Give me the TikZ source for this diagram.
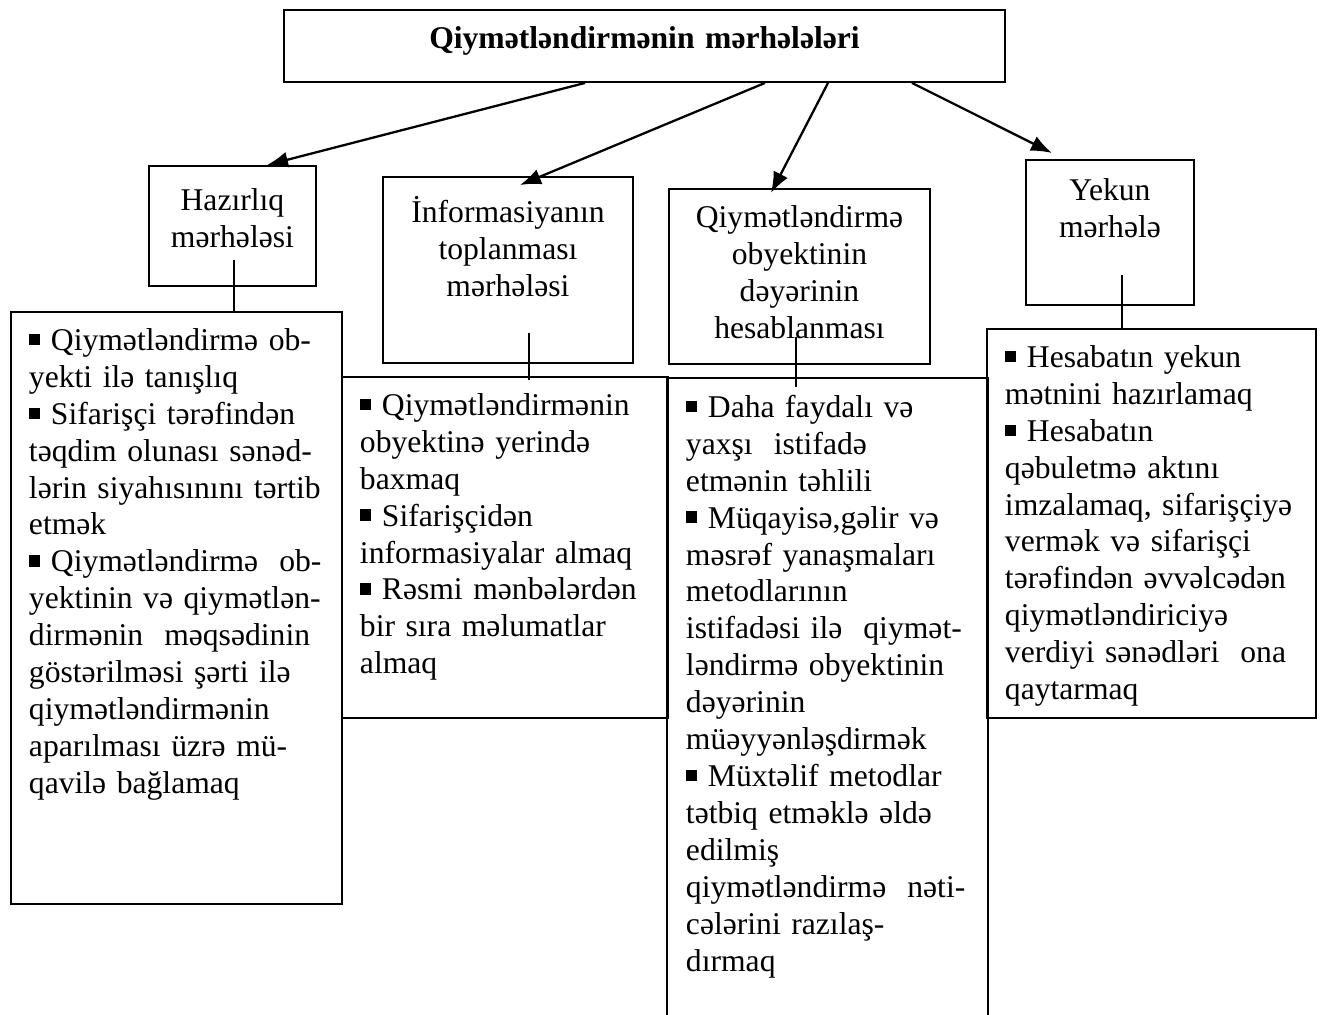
\documentclass[tikz,border=0pt]{standalone}
\usepackage{fontspec}
\setmainfont{Liberation Serif}
\usetikzlibrary{arrows.meta,calc}

\newcommand{\bul}{\rule[3pt]{6.5pt}{6.5pt}\hspace{6pt}}

\tikzset{
  stage/.style={draw=black, line width=1.1pt, anchor=north west, inner xsep=1mm, inner ysep=0pt,
    align=center, font=\fontsize{18pt}{21pt}\selectfont},
  task/.style={anchor=north west, line width=1.1pt, inner xsep=3.6mm, inner ysep=0pt,
    align=left, text height=7.7mm, font=\fontsize{18pt}{21pt}\selectfont},
  link/.style={-{Latex[length=4.2mm,width=3.2mm]}, line width=1.3pt},
  stem/.style={line width=0.7pt}
}

\begin{document}
\begin{tikzpicture}[x=0.2mm, y=-0.2mm]

	\useasboundingbox (0,0) rectangle (1322,1014);

	% main stage box
	\node[stage, font=\bfseries\fontsize{18pt}{21pt}\selectfont, text width=142.2mm, text height=7.8mm, text depth=6.6mm] (title) at (283,9) {Qiymətləndirmənin mərhələləri};

	% stages
	\node[stage, text width=31.4mm, text height=9mm, text depth=15mm]   (hz)  at (148,165)  {Hazırlıq\\ mərhələsi};
	\node[stage, text width=48mm, text height=9.2mm, text depth=28mm]   (inf) at (382,176)  {İnformasiyanın\\ toplanması\\ mərhələsi};
	\node[stage, text width=50.2mm, text height=7.8mm, text depth=27.2mm] (qiy) at (668,188) {Qiymətləndirmə\\ obyektinin\\ dəyərinin\\ hesablanması};
	\node[stage, text width=31.6mm, text height=8.2mm, text depth=20.8mm] (yek) at (1025,159) {Yekun\\ mərhələ};

	% tasks of each stage
	\node[task, draw, text width=59mm, text depth=110.7mm] (hzd) at (10,311) {\bul Qiymətləndirmə ob-\\ yekti ilə tanışlıq\\ \bul Sifarişçi tərəfindən\\ təqdim olunası sənəd-\\ lərin siyahısınını tərtib\\ etmək\\ \bul Qiymətləndirmə~~ob-\\ yektinin və qiymətlən-\\ dirmənin~~məqsədinin\\ göstərilməsi şərti ilə\\ qiymətləndirmənin\\ aparılması üzrə mü-\\ qavilə bağlamaq};
	\node[task, draw, text width=58mm, text depth=60.5mm] (infd) at (341,376) {\bul Qiymətləndirmənin\\ obyektinə yerində\\ baxmaq\\ \bul Sifarişçidən\\ informasiyalar almaq\\ \bul Rəsmi mənbələrdən\\ bir sıra məlumatlar\\ almaq};
	\node[task, text width=56.6mm, text depth=119.9mm] (qiyd) at (667,378) {\bul Daha faydalı və\\ yaxşı~~istifadə\\ etmənin təhlili\\ \bul Müqayisə,gəlir və\\ məsrəf yanaşmaları\\ metodlarının\\ istifadəsi ilə~~qiymət-\\ ləndirmə obyektinin\\ dəyərinin\\ müəyyənləşdirmək\\ \bul Müxtəlif metodlar\\ tətbiq etməklə əldə\\ edilmiş\\ qiymətləndirmə~~nəti-\\ cələrini razılaş-\\ dırmaq};
	\node[task, draw, text width=58.6mm, text depth=70.1mm] (yekd) at (986,328) {\bul Hesabatın yekun\\ mətnini hazırlamaq\\ \bul Hesabatın\\ qəbuletmə aktını\\ imzalamaq, sifarişçiyə\\ vermək və sifarişçi\\ tərəfindən əvvəlcədən\\ qiymətləndiriciyə\\ verdiyi sənədləri~~ona\\ qaytarmaq};
	\draw[line width=1.1pt] (qiyd.south west) -- (qiyd.north west) -- (qiyd.north east) -- (qiyd.south east);

	% arrows from the main box
	\draw[link] ($(title.south west)+(302,0)$) -- ($(hz.north west)+(119,0)$);
	\draw[link] ($(title.south west)+(482,0)$) -- ($(inf.north west)+(138,9)$);
	\draw[link] ($(title.south west)+(545,0)$) -- ($(qiy.north west)+(103,5)$);
	\draw[link] ($(title.south west)+(629,0)$) -- ($(yek.north west)+(27,-6)$);

	% short stems down to the task boxes
	\coordinate (hzs)  at (234,260);
	\coordinate (infs) at (529,333);
	\coordinate (qiys) at (796,337);
	\coordinate (yeks) at (1122,275);
	\draw[stem] (hzs) -- (hzs |- hzd.north);
	\draw[stem] (infs) -- ($(infs |- infd.north)+(0,4)$);
	\draw[stem] (qiys) -- ($(qiys |- qiyd.north)+(0,9)$);
	\draw[stem] (yeks) -- (yeks |- yekd.north);

\end{tikzpicture}
\end{document}
